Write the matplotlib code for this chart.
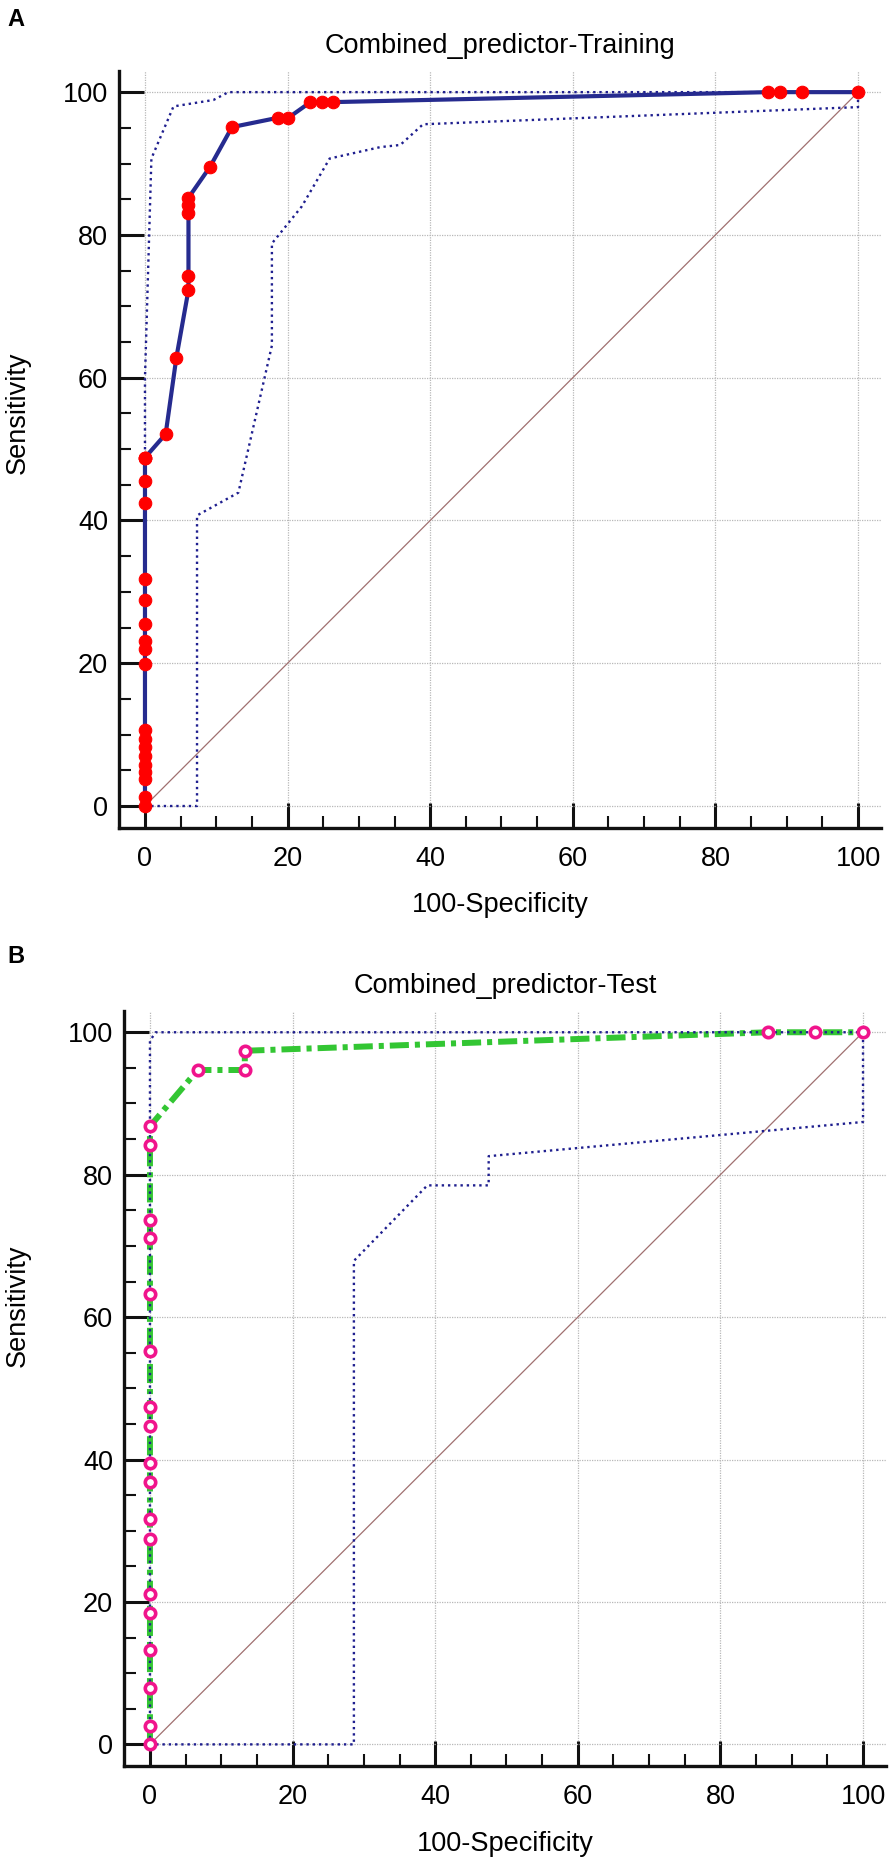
import matplotlib
matplotlib.use("Agg")
import matplotlib.pyplot as plt
from matplotlib.ticker import MultipleLocator

plt.rcParams['font.family'] = ['Liberation Sans', 'DejaVu Sans']

# ---------------- data ----------------
train_fpr = [0, 0, 0, 0, 0, 0, 0, 0, 0, 0, 0, 0, 0, 0, 0, 0, 0, 0, 0, 0,
             2.9, 4.4, 6.1, 6.1, 6.1, 6.1, 6.1, 9.1, 12.2, 18.6, 20.1,
             23.2, 24.8, 26.3, 87.4, 89.0, 92.1, 100]
train_tpr = [0, 1.2, 3.8, 4.7, 5.8, 7.0, 8.2, 9.4, 10.7, 19.9, 22.0, 23.1,
             25.5, 28.8, 31.8, 42.5, 45.5, 48.8, 48.8, 48.8,
             52.1, 62.8, 72.3, 74.2, 83.1, 84.2, 85.2, 89.5, 95.1, 96.4, 96.4,
             98.6, 98.6, 98.6, 100, 100, 100, 100]
train_ci_up_x = [0, 0, 0.9, 4.0, 9.6, 11.7, 100]
train_ci_up_y = [0, 60, 90.7, 98.0, 98.9, 100, 100]
train_ci_lo_x = [0, 7.3, 7.3, 13.1, 17.8, 17.8, 22.0, 25.9, 33.0, 35.8, 39.0, 100, 100]
train_ci_lo_y = [0, 0, 40.7, 43.9, 64.5, 78.8, 84.0, 90.7, 92.3, 92.6, 95.5, 97.9, 100]

test_fpr = [0, 0, 0, 0, 0, 0, 0, 0, 0, 0, 0, 0, 0, 0, 0, 0, 0, 0,
            6.7, 13.3, 13.3, 86.7, 93.3, 100]
test_tpr = [0, 2.6, 7.9, 13.2, 18.4, 21.1, 28.9, 31.6, 36.8, 39.5, 44.7, 47.4,
            55.3, 63.2, 71.1, 73.7, 84.2, 86.8,
            94.7, 94.7, 97.4, 100, 100, 100]
test_ci_up_x = [0, 0, 0.8, 100]
test_ci_up_y = [0, 98.8, 100, 100]
test_ci_lo_x = [0, 28.6, 28.6, 38.9, 47.5, 47.5, 100, 100]
test_ci_lo_y = [0, 0, 67.9, 78.5, 78.5, 82.6, 87.4, 100]

ticks = [0, 20, 40, 60, 80, 100]
titles = ["Combined_predictor-Training", "Combined_predictor-Test"]
panel_letters = ["A", "B"]
xlabel = "100-Specificity"
ylabel = "Sensitivity"

# ---------------- figure ----------------
W, H = 891, 1861
fig = plt.figure(figsize=(W / 100, H / 100), dpi=100)

ax1 = fig.add_axes([0.1339, 0.5550, 0.8547, 0.4070])
ax2 = fig.add_axes([0.1395, 0.0508, 0.8547, 0.4060])

FS = 19.5
ci_color = '#1f1f8f'
diag_color = '#a07070'


def style_axes(ax, title, ylab_x, ylab_y):
    ax.set_xlim(-3.6, 103.2)
    ax.set_ylim(-3.1, 103.0)
    for s in ['top', 'right']:
        ax.spines[s].set_visible(False)
    for s in ['left', 'bottom']:
        ax.spines[s].set_linewidth(2.4)
        ax.spines[s].set_color('#111111')
    ax.set_xticks(ticks)
    ax.set_yticks(ticks)
    ax.xaxis.set_minor_locator(MultipleLocator(5))
    ax.yaxis.set_minor_locator(MultipleLocator(5))
    ax.tick_params(which='major', direction='in', length=18, width=2.2,
                   labelsize=FS, color='#111111')
    ax.tick_params(axis='x', which='major', pad=12.5)
    ax.tick_params(axis='y', which='major', pad=8)
    ax.tick_params(which='minor', direction='in', length=8.5, width=1.5,
                   color='#111111')
    ax.tick_params(top=False, right=False, which='both')
    ax.grid(True, which='major', color='#b8b8b8', linestyle=(0, (1, 1)),
            linewidth=0.9, zorder=0)
    ax.set_axisbelow(True)
    ax.set_title(title, fontsize=FS, pad=13)
    ax.set_xlabel(xlabel, fontsize=FS, labelpad=15)
    ax.set_ylabel(ylabel, fontsize=FS)
    ax.yaxis.set_label_coords(ylab_x, ylab_y)
    ax.plot([0, 100], [0, 100], color=diag_color, linewidth=0.9, zorder=1)


style_axes(ax1, titles[0], -0.116, 0.548)
style_axes(ax2, titles[1], -0.123, 0.61)

# Panel A
ax1.plot(train_ci_up_x, train_ci_up_y, linestyle=':', color=ci_color,
         linewidth=1.7, zorder=2)
ax1.plot(train_ci_lo_x, train_ci_lo_y, linestyle=':', color=ci_color,
         linewidth=1.7, zorder=2)
ax1.plot(train_fpr, train_tpr, color='#262b8f', linewidth=3.0, zorder=3,
         marker='o', markersize=9, markeredgewidth=0.8,
         markerfacecolor='#ff0000', markeredgecolor='#ff0000', clip_on=False)

# Panel B
green_line, = ax2.plot(test_fpr, test_tpr, color='#33c633', linewidth=4.3,
                       zorder=3, solid_capstyle='butt')
green_line.set_dashes([3.2, 1.0, 0.85, 1.0])
ax2.plot(test_ci_up_x, test_ci_up_y, linestyle=':', color=ci_color,
         linewidth=1.7, zorder=4)
ax2.plot(test_ci_lo_x, test_ci_lo_y, linestyle=':', color=ci_color,
         linewidth=1.7, zorder=4)
ax2.plot(test_fpr, test_tpr, linestyle='none', marker='o', markersize=7.5,
         markerfacecolor='white', markeredgecolor='#f0148c',
         markeredgewidth=2.6, zorder=5, clip_on=False)

fig.text(7 / W, 1 - 7.5 / H, panel_letters[0], fontsize=17, fontweight='bold',
         va='top', ha='left')
fig.text(7 / W, 1 - 945 / H, panel_letters[1], fontsize=17, fontweight='bold',
         va='top', ha='left')

fig.savefig('out.png', dpi=100)
